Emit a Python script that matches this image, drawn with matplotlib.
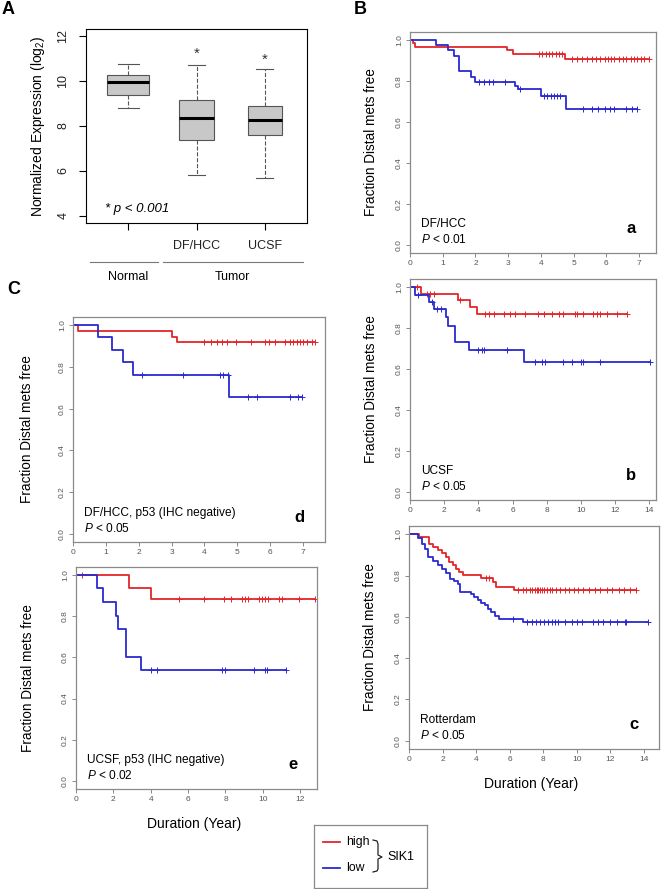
import numpy as np
import matplotlib
matplotlib.use("Agg")
import matplotlib.pyplot as plt

plt.rcParams['font.family'] = ['Liberation Sans', 'DejaVu Sans']
plt.rcParams['mathtext.fontset'] = 'custom'
plt.rcParams['mathtext.rm'] = 'Liberation Sans'
plt.rcParams['mathtext.it'] = 'Liberation Sans:italic'

RED = '#e3262b'
BLUE = '#2a2ad0'
FRAME = '#8a8a8a'
TICK = '#555555'

# --- A: SIK1 expression boxplot ---
box_groups = ['Normal', 'DF/HCC', 'UCSF']
box_ticklabels = ['', 'DF/HCC', 'UCSF']
box_whislo = [8.8, 5.8, 5.7]
box_q1 = [9.4, 7.38, 7.6]
box_med = [9.97, 8.37, 8.27]
box_q3 = [10.28, 9.18, 8.88]
box_whishi = [10.75, 10.72, 10.55]
box_width = [0.62, 0.52, 0.5]
star_pos = [2, 3]
star_y = [11.2, 10.93]

# --- KM curves: event times, survival after each event, censor times ---
# a: DF/HCC
a_high_t = [0.08, 0.15, 2.98, 3.15, 4.74]
a_high_s = [0.985, 0.967, 0.95, 0.933, 0.91]
a_high_c = [3.95, 4.05, 4.15, 4.25, 4.35, 4.45, 4.55, 4.65, 4.95, 5.1, 5.25, 5.4, 5.55, 5.7, 5.8,
            5.95, 6.05, 6.15, 6.25, 6.4, 6.5, 6.6, 6.75, 6.85, 6.95, 7.05, 7.15, 7.31]
a_low_t = [0.8, 1.15, 1.34, 1.49, 1.85, 2.0, 3.22, 3.3, 3.99, 4.77]
a_low_s = [0.975, 0.95, 0.925, 0.848, 0.822, 0.797, 0.775, 0.763, 0.727, 0.665]
a_low_c = [2.1, 2.25, 2.4, 2.55, 2.9, 3.35, 4.1, 4.2, 4.3, 4.4, 4.5, 4.6,
           5.3, 5.55, 5.75, 5.95, 6.1, 6.25, 6.6, 6.8, 6.93]

# b: UCSF
b_high_t = [0.63, 2.79, 3.53, 3.9]
b_high_s = [0.966, 0.937, 0.901, 0.867]
b_high_c = [0.4, 1.0, 1.2, 1.4, 2.9, 4.39, 4.65, 4.92, 5.51, 5.86, 6.15, 6.74, 7.52, 7.85, 8.3,
            8.75, 8.98, 9.67, 9.8, 10.15, 10.74, 10.94, 11.13, 11.52, 12.1, 12.69]
b_low_t = [0.27, 1.13, 1.42, 2.11, 2.25, 2.64, 3.46, 6.68]
b_low_s = [0.963, 0.929, 0.892, 0.855, 0.812, 0.731, 0.692, 0.634]
b_low_c = [0.45, 1.3, 1.6, 1.8, 4.0, 4.2, 4.35, 5.66, 7.32, 7.71, 7.91, 8.98, 9.47, 10.0,
           10.15, 11.13, 14.06]

# c: Rotterdam
c_high_t = [0.6, 1.2, 1.45, 1.7, 1.95, 2.2, 2.4, 2.6, 2.8, 3.0, 3.2, 4.3, 5.0, 5.2, 6.25]
c_high_s = [0.985, 0.955, 0.94, 0.925, 0.91, 0.89, 0.866, 0.85, 0.833, 0.817, 0.805, 0.79,
            0.77, 0.745, 0.728]
c_high_c = [4.6, 4.75, 6.5, 6.8, 7.0, 7.2, 7.35, 7.5, 7.6, 7.7, 7.8, 7.9, 8.05, 8.2, 8.4, 8.55,
            8.75, 9.0, 9.3, 9.55, 9.85, 10.1, 10.4, 10.75, 11.1, 11.4, 11.8, 12.1, 12.5, 12.8,
            13.2, 13.52]
c_low_t = [0.52, 0.75, 0.95, 1.15, 1.45, 1.7, 1.95, 2.2, 2.45, 2.7, 2.9, 3.06, 3.7, 3.9, 4.1,
           4.3, 4.5, 4.7, 4.9, 5.1, 5.38, 6.77]
c_low_s = [0.98, 0.955, 0.93, 0.89, 0.87, 0.85, 0.83, 0.81, 0.785, 0.775, 0.76, 0.72, 0.71,
           0.695, 0.68, 0.667, 0.655, 0.64, 0.623, 0.605, 0.59, 0.573]
c_low_c = [6.21, 7.01, 7.31, 7.56, 7.8, 8.04, 8.3, 8.5, 8.7, 8.89, 9.29, 9.69, 9.99, 10.29,
           10.98, 11.27, 11.57, 11.97, 12.37, 12.86, 12.96, 14.25]

# d: DF/HCC, p53 IHC negative
d_high_t = [0.16, 3.0, 3.17]
d_high_s = [0.974, 0.945, 0.921]
d_high_c = [3.99, 4.19, 4.37, 4.53, 4.68, 4.96, 5.41, 5.84, 5.97, 6.15, 6.45, 6.6, 6.7, 6.81,
            6.91, 7.01, 7.11, 7.26, 7.36]
d_low_t = [0.75, 1.18, 1.51, 1.84, 4.76]
d_low_s = [0.942, 0.883, 0.824, 0.764, 0.657]
d_low_c = [2.09, 3.36, 4.47, 4.57, 4.71, 5.34, 5.61, 6.6, 6.86, 6.96]

# e: UCSF, p53 IHC negative
e_high_t = [2.86, 4.0]
e_high_s = [0.94, 0.883]
e_high_c = [0.34, 5.53, 6.87, 7.94, 8.3, 8.87, 9.05, 9.2, 9.77, 9.95, 10.12, 10.3, 10.89,
            11.02, 11.91, 12.8]
e_low_t = [1.11, 1.46, 2.12, 2.23, 2.66, 2.7, 3.47]
e_low_s = [0.937, 0.872, 0.80, 0.737, 0.67, 0.603, 0.537]
e_low_c = [4.0, 4.36, 7.84, 7.98, 9.53, 10.12, 10.25, 11.25]


def km_curve(ax, t, s, cens, color):
    t = np.asarray(t); s = np.asarray(s); cens = np.asarray(cens)
    end = max(cens.max(), t.max())
    xs = np.concatenate([[0], t, [end]])
    ys = np.concatenate([[1.0], s, [s[-1]]])
    ax.step(xs, ys, where='post', color=color, lw=1.3)
    lev = np.concatenate([[1.0], s])[np.searchsorted(t, cens, side='right')]
    ax.plot(cens, lev, ls='none', marker='+', ms=5, mew=0.7, color=color)


def km_style(ax, xmax, xticks, name, pval, letter, ylab_x, xlabel=None):
    ax.set_xlim(0, xmax)
    ax.set_ylim(-0.04, 1.04)
    for sp in ax.spines.values():
        sp.set_color(FRAME)
        sp.set_linewidth(0.9)
    ax.set_xticks(xticks)
    ax.set_yticks([0, 0.2, 0.4, 0.6, 0.8, 1.0])
    ax.set_yticklabels(['0.0', '0.2', '0.4', '0.6', '0.8', '1.0'], rotation=90, va='center')
    ax.tick_params(colors=FRAME, labelcolor=TICK, labelsize=6, length=3, width=0.7, pad=2)
    ax.set_ylabel('Fraction Distal mets free', fontsize=9.8)
    ax.yaxis.set_label_coords(ylab_x, 0.5)
    ax.text(0.045, 0.13, name, transform=ax.transAxes, fontsize=8.6, va='center')
    ax.text(0.045, 0.062, pval, transform=ax.transAxes, fontsize=8.6, va='center')
    ax.text(0.9, 0.11, letter, transform=ax.transAxes, fontsize=12, fontweight='bold',
            ha='center', va='center')
    if xlabel:
        ax.set_xlabel(xlabel, fontsize=10)
        ax.xaxis.set_label_coords(0.49, -0.125)


W, H = 662, 889
fig = plt.figure(figsize=(W / 100, H / 100), dpi=100)


def px_axes(x0, y0, x1, y1):
    return fig.add_axes([x0 / W, 1 - y1 / H, (x1 - x0) / W, (y1 - y0) / H])


# Panel A
axA = px_axes(86, 29, 307, 223)
stats = [dict(label=g, whislo=lo, q1=q1, med=m, q3=q3, whishi=hi)
         for g, lo, q1, m, q3, hi in zip(box_groups, box_whislo, box_q1, box_med, box_q3, box_whishi)]
axA.bxp(stats, positions=[1, 2, 3], widths=box_width, capwidths=[w * 0.5 for w in box_width],
        patch_artist=True, showfliers=False,
        boxprops=dict(facecolor='#c8c8c8', edgecolor='#555555', lw=0.8),
        whiskerprops=dict(ls='--', color='#555555', lw=0.8),
        capprops=dict(color='#555555', lw=0.8),
        medianprops=dict(color='black', lw=2.2))
for xp, yp in zip(star_pos, star_y):
    axA.text(xp, yp, '*', ha='center', va='center', fontsize=11, color='#333333')
axA.set_xlim(0.38, 3.62)
axA.set_ylim(3.68, 12.32)
axA.set_yticks([4, 6, 8, 10, 12])
axA.set_yticklabels(['4', '6', '8', '10', '12'], rotation=90, va='center')
axA.set_xticks([1, 2, 3])
axA.set_xticklabels(box_ticklabels)
axA.tick_params(labelsize=9, labelcolor='#222222', length=5, pad=7)
axA.set_ylabel('Normalized Expression (log$_2$)', fontsize=10)
axA.yaxis.set_label_coords(-0.175, 0.5)
axA.text(0.085, 0.07, '* p < 0.001', transform=axA.transAxes, fontsize=9.5, style='italic',
         va='center')
tr = axA.get_xaxis_transform()
axA.plot([0.44, 1.43], [-0.2, -0.2], transform=tr, clip_on=False, color='#777777', lw=0.8)
axA.plot([1.51, 3.56], [-0.2, -0.2], transform=tr, clip_on=False, color='#777777', lw=0.8)
axA.text(1.0, -0.28, 'Normal', transform=tr, ha='center', va='center', fontsize=9)
axA.text(2.52, -0.28, 'Tumor', transform=tr, ha='center', va='center', fontsize=9)

# Panel B (a, b, c)
ax_a = px_axes(410, 32, 656, 253)
km_curve(ax_a, a_high_t, a_high_s, a_high_c, RED)
km_curve(ax_a, a_low_t, a_low_s, a_low_c, BLUE)
km_style(ax_a, 7.52, range(0, 8), 'DF/HCC', '$P$ < 0.01', 'a', -0.13)

ax_b = px_axes(410, 279, 656, 500)
km_curve(ax_b, b_high_t, b_high_s, b_high_c, RED)
km_curve(ax_b, b_low_t, b_low_s, b_low_c, BLUE)
km_style(ax_b, 14.4, range(0, 15, 2), 'UCSF', '$P$ < 0.05', 'b', -0.13)

ax_c = px_axes(409, 526, 659, 749)
km_curve(ax_c, c_high_t, c_high_s, c_high_c, RED)
km_curve(ax_c, c_low_t, c_low_s, c_low_c, BLUE)
km_style(ax_c, 14.9, range(0, 15, 2), 'Rotterdam', '$P$ < 0.05', 'c', -0.13,
         xlabel='Duration (Year)')

# Panel C (d, e)
ax_d = px_axes(73, 317, 325, 542)
km_curve(ax_d, d_high_t, d_high_s, d_high_c, RED)
km_curve(ax_d, d_low_t, d_low_s, d_low_c, BLUE)
km_style(ax_d, 7.67, range(0, 8), 'DF/HCC, p53 (IHC negative)', '$P$ < 0.05', 'd', -0.155)

ax_e = px_axes(76, 567, 317, 789)
km_curve(ax_e, e_high_t, e_high_s, e_high_c, RED)
km_curve(ax_e, e_low_t, e_low_s, e_low_c, BLUE)
km_style(ax_e, 12.9, range(0, 13, 2), 'UCSF, p53 (IHC negative)', '$P$ < 0.02', 'e', -0.17,
         xlabel='Duration (Year)')

# panel letters
fig.text(2 / W, 1 - 10 / H, 'A', fontsize=13, fontweight='bold', va='center')
fig.text(354 / W, 1 - 10 / H, 'B', fontsize=13, fontweight='bold', va='center')
fig.text(7 / W, 1 - 289 / H, 'C', fontsize=13, fontweight='bold', va='center')

# legend box with brace
axL = px_axes(314, 825, 427, 888)
axL.set_xlim(0, 113)
axL.set_ylim(63, 0)
axL.set_xticks([])
axL.set_yticks([])
for sp in axL.spines.values():
    sp.set_color(FRAME)
    sp.set_linewidth(0.9)
axL.plot([9, 26], [17, 17], color=RED, lw=1.3)
axL.plot([9, 26], [43, 43], color=BLUE, lw=1.3)
axL.text(32, 17, 'high', fontsize=8.8, va='center')
axL.text(32, 43, 'low', fontsize=8.8, va='center')
axL.plot([59, 63, 64, 64, 68, 64, 64, 63, 59], [15, 16, 19, 30, 32, 34, 44, 46, 47],
         color='#222222', lw=0.9)
axL.text(73, 32, 'SIK1', fontsize=9, va='center')

fig.savefig('out.png', dpi=100)
